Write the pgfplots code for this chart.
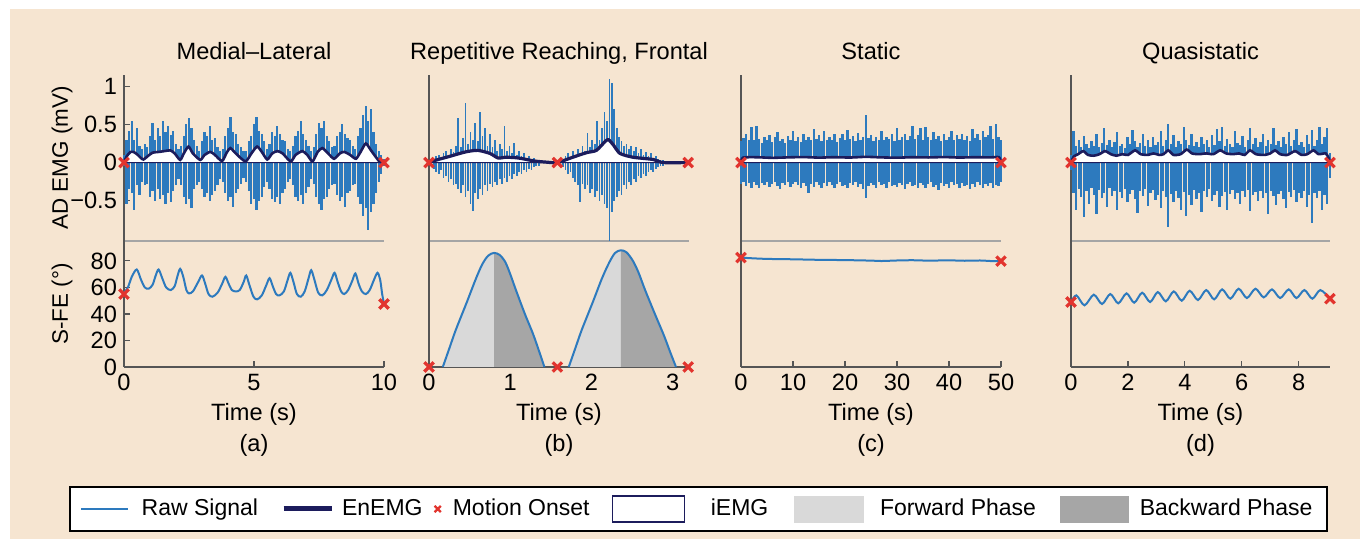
\documentclass[border=0pt]{standalone}
\usepackage{pgfplots}
\pgfplotsset{compat=1.18}
\usepackage{pgfplotstable}
\usepackage{fontspec}
\setmainfont{Liberation Sans}
\definecolor{bg}{RGB}{246,229,209}
\definecolor{rawblue}{RGB}{45,122,190}
\definecolor{navy}{RGB}{28,28,92}
\definecolor{fwd}{RGB}{217,217,217}
\definecolor{bwd}{RGB}{166,166,166}
\definecolor{redx}{RGB}{226,52,46}
\definecolor{axgray}{RGB}{85,85,85}
\definecolor{sepgray}{RGB}{165,165,165}
\newcommand\fs{\fontsize{11.8}{14}\selectfont}
\newcommand\fsy{\fontsize{11.2}{13}\selectfont}
\newcommand\gap[1]{\hspace*{#1}\mbox{}}

\pgfplotsset{
  pnlbase/.style={scale only axis, width=130pt, anchor=south west, clip=false,
    axis x line=bottom, axis y line=left,
    tick align=inside, major tick length=3pt,
    tick style={axgray, line width=0.6pt},
    tick label style={font=\fs, text=black},
    label style={font=\fs},
    title style={font=\fs, at={(axis description cs:0.5,1)}, anchor=base, yshift=1.5pt},
    /pgf/number format/assume math mode=true},
  pnlup/.style={pnlbase, height=83pt, ymin=-1.03, ymax=1.15, xtick=\empty, ytick=\empty,
    x axis line style={draw=sepgray, line width=0.6pt, -},
    y axis line style={draw=axgray, line width=0.7pt, -}},
  pnllow/.style={pnlbase, height=63pt, ymin=0, ymax=95, ytick=\empty,
    x axis line style={draw=axgray, line width=0.7pt, -},
    y axis line style={draw=axgray, line width=0.7pt, -},
    xlabel={Time (s)},
    xlabel style={font=\fs, at={(axis description cs:0.5,0)}, anchor=base, yshift=-27pt}},
  rawsig/.style={ycomb, no markers, draw=rawblue},
  iemg/.style={fill=white, draw=navy, line width=0.5pt, smooth, tension=0.4},
  enemg/.style={navy, line width=1.3pt, smooth, tension=0.4, no markers},
  onset/.style={only marks, mark=x, mark size=3.3pt, redx, line width=1.6pt},
  sfe/.style={rawblue, line width=1pt, smooth, no markers},
  ylab/.style={ylabel style={font=\fsy, at={(axis description cs:-0.2385,0.5)}, anchor=center}},
}

\pgfplotstableread{
t p n
0.0 0.10 -0.05
0.1 0.30 -0.55
0.2 0.42 -0.35
0.3 0.55 -0.40
0.4 0.30 -0.62
0.5 0.45 -0.30
0.6 0.22 -0.42
0.7 0.18 -0.25
0.8 0.25 -0.30
0.9 0.20 -0.28
1.0 0.35 -0.45
1.1 0.52 -0.38
1.2 0.30 -0.50
1.3 0.45 -0.35
1.4 0.35 -0.48
1.5 0.55 -0.42
1.6 0.40 -0.55
1.7 0.48 -0.40
1.8 0.36 -0.52
1.9 0.42 -0.38
2.0 0.25 -0.30
2.1 0.18 -0.22
2.2 0.22 -0.30
2.3 0.35 -0.45
2.4 0.50 -0.55
2.5 0.58 -0.48
2.6 0.45 -0.60
2.7 0.30 -0.35
2.8 0.22 -0.30
2.9 0.15 -0.25
3.0 0.28 -0.35
3.1 0.40 -0.45
3.2 0.35 -0.40
3.3 0.48 -0.50
3.4 0.30 -0.42
3.5 0.32 -0.38
3.6 0.20 -0.30
3.7 0.15 -0.22
3.8 0.18 -0.25
3.9 0.35 -0.40
4.0 0.45 -0.50
4.1 0.60 -0.45
4.2 0.40 -0.58
4.3 0.38 -0.40
4.4 0.25 -0.35
4.5 0.20 -0.28
4.6 0.15 -0.20
4.7 0.15 -0.25
4.8 0.28 -0.38
4.9 0.35 -0.55
5.0 0.50 -0.48
5.1 0.60 -0.62
5.2 0.42 -0.50
5.3 0.38 -0.45
5.4 0.28 -0.32
5.5 0.18 -0.25
5.6 0.25 -0.35
5.7 0.40 -0.48
5.8 0.35 -0.52
5.9 0.48 -0.45
6.0 0.38 -0.55
6.1 0.30 -0.40
6.2 0.28 -0.35
6.3 0.18 -0.25
6.4 0.15 -0.22
6.5 0.22 -0.30
6.6 0.35 -0.45
6.7 0.42 -0.50
6.8 0.55 -0.42
6.9 0.38 -0.55
7.0 0.30 -0.40
7.1 0.22 -0.32
7.2 0.15 -0.22
7.3 0.20 -0.28
7.4 0.38 -0.45
7.5 0.52 -0.55
7.6 0.45 -0.62
7.7 0.55 -0.48
7.8 0.35 -0.45
7.9 0.28 -0.35
8.0 0.20 -0.30
8.1 0.22 -0.28
8.2 0.35 -0.42
8.3 0.40 -0.50
8.4 0.50 -0.45
8.5 0.38 -0.58
8.6 0.32 -0.40
8.7 0.30 -0.38
8.8 0.22 -0.30
8.9 0.18 -0.28
9.0 0.35 -0.45
9.1 0.45 -0.55
9.2 0.62 -0.70
9.3 0.74 -0.60
9.4 0.55 -0.88
9.5 0.70 -0.65
9.6 0.40 -0.55
9.7 0.25 -0.40
9.8 0.15 -0.25
9.9 0.10 -0.15
10.0 0.05 -0.05
}\rawA

\pgfplotstableread{
t e
0 0
0.1 0.08
0.25 0.14
0.36 0.14
0.5 0.11
0.65 0.06
0.75 0.04
0.9 0.08
1.1 0.13
1.35 0.14
1.55 0.15
1.78 0.16
1.95 0.12
2.16 0.035
2.3 0.12
2.48 0.21
2.65 0.12
2.93 0.035
3.1 0.1
3.32 0.14
3.5 0.1
3.77 0.02
3.95 0.13
4.09 0.19
4.3 0.12
4.67 0.015
4.9 0.12
5.12 0.21
5.3 0.14
5.51 0.04
5.7 0.12
5.9 0.15
6.1 0.12
6.41 0.015
6.6 0.1
6.86 0.15
7.05 0.1
7.25 0.015
7.45 0.14
7.63 0.19
7.85 0.12
8.08 0.05
8.3 0.12
8.47 0.14
8.7 0.1
8.92 0.05
9.1 0.14
9.3 0.25
9.5 0.16
9.82 0.015
10 0
}\enA

\pgfplotstableread{
t p n
0.06 0.05 -0.08
0.09 0.08 -0.12
0.12 0.10 -0.15
0.15 0.06 -0.10
0.18 0.12 -0.20
0.21 0.15 -0.18
0.24 0.10 -0.25
0.27 0.18 -0.22
0.30 0.14 -0.30
0.33 0.22 -0.28
0.36 0.58 -0.35
0.39 0.20 -0.40
0.42 0.32 -0.30
0.45 0.78 -0.45
0.48 0.25 -0.38
0.51 0.40 -0.55
0.54 0.30 -0.63
0.57 0.52 -0.40
0.60 0.28 -0.48
0.63 0.67 -0.35
0.66 0.35 -0.42
0.69 0.45 -0.30
0.72 0.22 -0.38
0.75 0.38 -0.28
0.78 0.20 -0.32
0.81 0.30 -0.25
0.84 0.15 -0.30
0.87 0.25 -0.22
0.90 0.18 -0.28
0.93 0.48 -0.20
0.96 0.15 -0.25
0.99 0.22 -0.18
1.02 0.12 -0.22
1.05 0.26 -0.15
1.08 0.10 -0.18
1.11 0.15 -0.12
1.14 0.08 -0.15
1.17 0.12 -0.10
1.20 0.06 -0.12
1.23 0.08 -0.08
1.26 0.05 -0.10
1.29 0.06 -0.06
1.32 0.04 -0.05
1.35 0.03 -0.04
1.65 0.04 -0.06
1.68 0.08 -0.10
1.71 0.12 -0.15
1.74 0.06 -0.12
1.77 0.15 -0.20
1.80 0.10 -0.25
1.83 0.18 -0.30
1.86 0.12 -0.52
1.89 0.22 -0.28
1.92 0.15 -0.35
1.95 0.39 -0.30
1.98 0.20 -0.40
2.01 0.30 -0.35
2.04 0.25 -0.45
2.07 0.54 -0.38
2.10 0.30 -0.50
2.13 0.45 -0.42
2.16 0.67 -0.55
2.19 0.55 -0.60
2.22 1.10 -1.03
2.25 1.04 -0.65
2.28 0.70 -0.50
2.31 0.45 -0.45
2.34 0.33 -0.38
2.37 0.28 -0.42
2.40 0.22 -0.30
2.43 0.25 -0.35
2.46 0.18 -0.25
2.49 0.22 -0.30
2.52 0.15 -0.22
2.55 0.20 -0.25
2.58 0.12 -0.18
2.61 0.18 -0.20
2.64 0.10 -0.15
2.67 0.14 -0.18
2.70 0.08 -0.12
2.73 0.12 -0.10
2.76 0.06 -0.12
2.79 0.08 -0.08
2.82 0.05 -0.06
2.85 0.04 -0.05
2.88 0.03 -0.04
}\rawB

\pgfplotstableread{
t e
0 0
0.08 0.03
0.25 0.08
0.45 0.14
0.6 0.16
0.75 0.12
0.85 0.06
0.95 0.07
1.1 0.06
1.3 0.02
1.45 0.005
1.58 0
1.77 0.07
1.94 0.13
2.06 0.16
2.17 0.28
2.21 0.30
2.27 0.23
2.35 0.12
2.51 0.07
2.76 0.04
2.88 0.0
3.19 0
}\enB

\pgfplotstableread{
t p n
0.0 0.28 -0.28
0.5 0.32 -0.25
1.0 0.38 -0.31
1.5 0.30 -0.27
2.0 0.47 -0.33
2.5 0.29 -0.26
3.0 0.48 -0.29
3.5 0.31 -0.34
4.0 0.26 -0.27
4.5 0.34 -0.30
5.0 0.29 -0.26
5.5 0.36 -0.32
6.0 0.27 -0.28
6.5 0.33 -0.25
7.0 0.40 -0.31
7.5 0.28 -0.35
8.0 0.31 -0.27
8.5 0.26 -0.29
9.0 0.35 -0.26
9.5 0.30 -0.32
10.0 0.42 -0.28
10.5 0.28 -0.26
11.0 0.33 -0.30
11.5 0.27 -0.33
12.0 0.38 -0.27
12.5 0.30 -0.31
13.0 0.34 -0.40
13.5 0.29 -0.28
14.0 0.44 -0.32
14.5 0.31 -0.26
15.0 0.36 -0.29
15.5 0.28 -0.34
16.0 0.41 -0.27
16.5 0.30 -0.31
17.0 0.34 -0.25
17.5 0.29 -0.29
18.0 0.37 -0.33
18.5 0.27 -0.28
19.0 0.32 -0.26
19.5 0.38 -0.31
20.0 0.29 -0.29
20.5 0.43 -0.34
21.0 0.31 -0.27
21.5 0.35 -0.30
22.0 0.28 -0.25
22.5 0.39 -0.32
23.0 0.30 -0.28
23.5 0.34 -0.35
24.0 0.63 -0.46
24.5 0.32 -0.31
25.0 0.36 -0.27
25.5 0.28 -0.29
26.0 0.33 -0.33
26.5 0.30 -0.26
27.0 0.41 -0.30
27.5 0.29 -0.28
28.0 0.34 -0.34
28.5 0.31 -0.25
29.0 0.37 -0.31
29.5 0.28 -0.29
30.0 0.45 -0.32
30.5 0.30 -0.27
31.0 0.33 -0.30
31.5 0.38 -0.35
32.0 0.29 -0.28
32.5 0.35 -0.26
33.0 0.48 -0.31
33.5 0.31 -0.29
34.0 0.36 -0.33
34.5 0.46 -0.27
35.0 0.30 -0.30
35.5 0.47 -0.34
36.0 0.33 -0.28
36.5 0.29 -0.25
37.0 0.40 -0.32
37.5 0.31 -0.29
38.0 0.35 -0.36
38.5 0.28 -0.27
39.0 0.37 -0.31
39.5 0.30 -0.28
40.0 0.34 -0.33
40.5 0.42 -0.26
41.0 0.29 -0.30
41.5 0.36 -0.28
42.0 0.31 -0.34
42.5 0.38 -0.27
43.0 0.30 -0.31
43.5 0.35 -0.29
44.0 0.28 -0.35
44.5 0.44 -0.28
45.0 0.32 -0.32
45.5 0.37 -0.26
46.0 0.30 -0.30
46.5 0.41 -0.34
47.0 0.33 -0.28
47.5 0.36 -0.31
48.0 0.48 -0.27
48.5 0.31 -0.33
49.0 0.50 -0.29
49.5 0.34 -0.31
50.0 0.30 -0.26
}\rawC

\pgfplotstableread{
t e
0 0
0.4 0.065
3 0.07
6 0.062
9 0.068
12 0.072
15 0.065
18 0.07
21 0.066
24 0.075
27 0.068
30 0.064
33 0.07
36 0.067
39 0.072
42 0.066
45 0.07
48 0.068
49.6 0.07
50 0
}\enC

\pgfplotstableread{
t p n
0.00 0.10 -0.10
0.09 0.42 -0.40
0.18 0.22 -0.62
0.27 0.30 -0.35
0.36 0.20 -0.45
0.45 0.35 -0.72
0.54 0.24 -0.38
0.63 0.19 -0.55
0.72 0.28 -0.33
0.81 0.22 -0.42
0.90 0.38 -0.68
0.99 0.20 -0.36
1.08 0.26 -0.47
1.17 0.45 -0.40
1.26 0.23 -0.58
1.35 0.30 -0.34
1.44 0.21 -0.44
1.53 0.27 -0.37
1.62 0.40 -0.62
1.71 0.22 -0.39
1.80 0.25 -0.46
1.89 0.19 -0.35
1.98 0.33 -0.52
2.07 0.24 -0.41
2.16 0.43 -0.36
2.25 0.28 -0.48
2.34 0.21 -0.66
2.43 0.26 -0.38
2.52 0.37 -0.44
2.61 0.22 -0.35
2.70 0.29 -0.57
2.79 0.20 -0.40
2.88 0.34 -0.36
2.97 0.23 -0.49
3.06 0.27 -0.42
3.15 0.41 -0.60
3.24 0.22 -0.38
3.33 0.30 -0.45
3.42 0.50 -0.84
3.51 0.25 -0.41
3.60 0.36 -0.52
3.69 0.21 -0.37
3.78 0.28 -0.46
3.87 0.24 -0.62
3.96 0.47 -0.39
4.05 0.30 -0.70
4.14 0.23 -0.43
4.23 0.38 -0.56
4.32 0.22 -0.36
4.41 0.27 -0.48
4.50 0.20 -0.40
4.59 0.33 -0.65
4.68 0.24 -0.38
4.77 0.29 -0.45
4.86 0.21 -0.35
4.95 0.36 -0.50
5.04 0.23 -0.42
5.13 0.44 -0.37
5.22 0.28 -0.58
5.31 0.47 -0.44
5.40 0.22 -0.39
5.49 0.31 -0.62
5.58 0.25 -0.41
5.67 0.20 -0.36
5.76 0.42 -0.48
5.85 0.26 -0.40
5.94 0.23 -0.55
6.03 0.35 -0.38
6.12 0.21 -0.45
6.21 0.29 -0.36
6.30 0.45 -0.64
6.39 0.24 -0.42
6.48 0.32 -0.39
6.57 0.20 -0.51
6.66 0.27 -0.37
6.75 0.38 -0.46
6.84 0.22 -0.40
6.93 0.30 -0.68
7.02 0.25 -0.38
7.11 0.46 -0.44
7.20 0.23 -0.56
7.29 0.28 -0.41
7.38 0.21 -0.37
7.47 0.34 -0.48
7.56 0.24 -0.60
7.65 0.40 -0.39
7.74 0.22 -0.45
7.83 0.29 -0.36
7.92 0.44 -0.52
8.01 0.23 -0.40
8.10 0.27 -0.47
8.19 0.21 -0.38
8.28 0.36 -0.58
8.37 0.25 -0.42
8.46 0.43 -0.80
8.55 0.22 -0.40
8.64 0.30 -0.46
8.73 0.47 -0.37
8.82 0.24 -0.62
8.91 0.33 -0.43
9.00 0.45 -0.55
9.09 0.12 -0.20
}\rawD

\pgfplotstableread{
t e
0 0
0.1 0.08
0.25 0.11
0.43 0.15
0.6 0.10
0.8 0.09
1.0 0.11
1.2 0.15
1.4 0.11
1.6 0.09
1.8 0.11
2.0 0.10
2.25 0.16
2.45 0.11
2.7 0.10
2.9 0.12
3.1 0.10
3.25 0.11
3.42 0.16
3.6 0.10
3.85 0.11
4.07 0.17
4.25 0.12
4.5 0.11
4.75 0.12
5.0 0.11
5.24 0.16
5.45 0.12
5.7 0.11
5.9 0.12
6.1 0.10
6.29 0.16
6.5 0.11
6.8 0.10
7.0 0.12
7.17 0.16
7.35 0.11
7.6 0.10
7.87 0.15
8.1 0.10
8.3 0.11
8.52 0.16
8.7 0.11
8.95 0.12
9.05 0.06
9.1 0
}\enD

\pgfplotstableread{
t y
0.17 0
0.25 14
0.33 28
0.46 48
0.58 67
0.66 78
0.73 84
0.80 86
}\fwdA
\pgfplotstableread{
t y
0.80 86
0.87 84.5
0.94 79
1.00 70
1.07 58
1.18 40
1.28 25
1.36 11
1.42 0
}\bwdA
\pgfplotstableread{
t y
0.17 0
0.25 14
0.33 28
0.46 48
0.58 67
0.66 78
0.73 84
0.80 86
0.87 84.5
0.94 79
1.00 70
1.07 58
1.18 40
1.28 25
1.36 11
1.42 0
}\bellA
\pgfplotstableread{
t y
1.72 0
1.80 14
1.88 28
2.01 48
2.13 67
2.22 79
2.29 86
2.36 88
}\fwdB
\pgfplotstableread{
t y
2.36 88
2.43 86.5
2.51 80
2.58 71
2.66 58
2.78 40
2.89 24
2.97 11
3.04 0
}\bwdB
\pgfplotstableread{
t y
1.72 0
1.80 14
1.88 28
2.01 48
2.13 67
2.22 79
2.29 86
2.36 88
2.43 86.5
2.51 80
2.58 71
2.66 58
2.78 40
2.89 24
2.97 11
3.04 0
}\bellB

\begin{document}
\begin{tikzpicture}
\fill[white] (0,0) rectangle (680pt,269.5pt);
\fill[bg] (5pt,0) rectangle (680pt,265pt);
\useasboundingbox (0,0) rectangle (680pt,269.5pt);

% ---------------- (a) ----------------
\begin{axis}[pnlup, at={(62pt,149pt)}, xmin=0, xmax=10,
  ytick={-0.5,0,0.5,1}, yticklabels={−0.5,0,0.5,1},
  ylabel={AD EMG (mV)}, ylab,
  title={Medial–Lateral}]
\addplot[rawsig, line width=1.1pt] table[x=t,y=p]{\rawA};
\addplot[rawsig, line width=1.1pt] table[x=t,y=n]{\rawA};
\addplot[iemg] table[x=t,y=e]{\enA} \closedcycle;
\addplot[enemg] table[x=t,y=e]{\enA};
\addplot[onset] coordinates {(0,0) (10,0)};
\end{axis}
\begin{axis}[pnllow, at={(62pt,86pt)}, xmin=0, xmax=10, xtick={0,5,10},
  ytick={0,20,40,60,80},
  ylabel={S-FE (°)}, ylab]
\addplot[sfe] table {
0 56
0.15 60
0.3 68
0.49 73.5
0.65 66
0.8 60
0.95 59
1.1 62
1.22 69
1.33 73.5
1.47 67
1.62 60
1.8 58
1.95 61
2.05 68
2.16 74
2.28 68
2.4 58
2.5 55.5
2.65 57
2.85 64
3.0 69
3.12 63
3.25 55
3.4 53
3.6 56
3.78 63
3.9 68
4.02 63
4.15 58
4.3 57
4.45 58
4.6 64
4.7 69
4.82 62
4.98 53
5.12 51
5.3 54
5.48 62
5.6 67
5.72 61
5.85 55
5.98 54
6.15 57
6.3 66
6.4 71
6.52 64
6.65 55
6.8 53
6.95 57
7.1 67
7.2 73
7.32 66
7.47 56
7.63 54
7.8 58
7.98 66
8.1 71
8.22 64
8.35 57
8.47 55
8.62 58
8.78 65
8.9 70.5
9.02 63
9.15 57
9.3 55
9.45 58
9.62 66
9.75 71
9.85 66
9.93 55
10 47.5
};
\addplot[onset] coordinates {(0,55) (10,47.5)};
\node[font=\fs, anchor=base, yshift=-42.5pt] at (axis description cs:0.5,0) {(a)};
\end{axis}

% ---------------- (b) ----------------
\begin{axis}[pnlup, at={(214.5pt,149pt)}, xmin=0, xmax=3.2,
  title={Repetitive Reaching, Frontal}]
\addplot[rawsig, line width=0.85pt] table[x=t,y=p]{\rawB};
\addplot[rawsig, line width=0.85pt] table[x=t,y=n]{\rawB};
\addplot[iemg] table[x=t,y=e]{\enB} \closedcycle;
\addplot[enemg, line width=1.6pt] table[x=t,y=e]{\enB};
\addplot[onset] coordinates {(0,0) (1.58,0) (3.19,0)};
\end{axis}
\begin{axis}[pnllow, at={(214.5pt,86pt)}, xmin=0, xmax=3.2, xtick={0,1,2,3}]
\addplot[fill=fwd, draw=none, smooth] table[x=t,y=y]{\fwdA} \closedcycle;
\addplot[fill=bwd, draw=none, smooth] table[x=t,y=y]{\bwdA} \closedcycle;
\addplot[fill=fwd, draw=none, smooth] table[x=t,y=y]{\fwdB} \closedcycle;
\addplot[fill=bwd, draw=none, smooth] table[x=t,y=y]{\bwdB} \closedcycle;
\addplot[sfe] table[x=t,y=y]{\bellA};
\addplot[sfe] table[x=t,y=y]{\bellB};
\addplot[onset] coordinates {(0,0) (1.58,0) (3.19,0)};
\node[font=\fs, anchor=base, yshift=-42.5pt] at (axis description cs:0.5,0) {(b)};
\end{axis}

% ---------------- (c) ----------------
\begin{axis}[pnlup, at={(370.5pt,149pt)}, xmin=0, xmax=50, title={Static}]
\addplot[rawsig, line width=1.2pt] table[x=t,y=p]{\rawC};
\addplot[rawsig, line width=1.2pt] table[x=t,y=n]{\rawC};
\addplot[iemg] table[x=t,y=e]{\enC} \closedcycle;
\addplot[enemg] table[x=t,y=e]{\enC};
\addplot[onset] coordinates {(0,0) (50,0)};
\end{axis}
\begin{axis}[pnllow, at={(370.5pt,86pt)}, xmin=0, xmax=50, xtick={0,10,...,50}]
\addplot[sfe] table {
0 82.5
2 82
5 81.5
10 81.2
15 80.8
20 80.6
25 80.2
27 79.9
30 80.3
33 80.5
36 80.2
40 80.4
43 80.1
46 80.3
48 79.9
50 79.8
};
\addplot[onset] coordinates {(0,82.5) (50,79.8)};
\node[font=\fs, anchor=base, yshift=-42.5pt] at (axis description cs:0.5,0) {(c)};
\end{axis}

% ---------------- (d) ----------------
\begin{axis}[pnlup, at={(535.5pt,149pt)}, width=129.5pt, xmin=0, xmax=9.1, title={Quasistatic}]
\addplot[rawsig, line width=1.15pt] table[x=t,y=p]{\rawD};
\addplot[rawsig, line width=1.15pt] table[x=t,y=n]{\rawD};
\addplot[iemg] table[x=t,y=e]{\enD} \closedcycle;
\addplot[enemg] table[x=t,y=e]{\enD};
\addplot[onset] coordinates {(0,0) (9.1,0)};
\end{axis}
\begin{axis}[pnllow, at={(535.5pt,86pt)}, width=129.5pt, xmin=0, xmax=9.1, xtick={0,2,4,6,8}]
\addplot[sfe] table {
0 49
0.19 54
0.475 46.5
0.80 54.5
1.09 47.5
1.38 55
1.66 48
1.95 55.5
2.22 48.5
2.50 56
2.78 49
3.05 56.5
3.33 49.5
3.61 57
3.89 50
4.17 57.5
4.46 50.5
4.75 58
5.03 51
5.31 58.5
5.60 51.5
5.89 59
6.18 52
6.48 59
6.77 52.5
7.06 58.5
7.35 52
7.65 58.5
7.92 52
8.20 58
8.48 51.5
8.76 58
9.10 51.5
};
\addplot[onset] coordinates {(0,49) (9.1,51.5)};
\node[font=\fs, anchor=base, yshift=-42.5pt] at (axis description cs:0.5,0) {(d)};
\end{axis}

% ---------------- legend ----------------
\begin{axis}[at={(35pt,4pt)}, anchor=south west, scale only axis,
  width=628.5pt, height=22pt, xmin=0, xmax=1, ymin=0, ymax=1,
  xtick=\empty, ytick=\empty,
  axis line style={black, line width=0.6pt},
  axis background/.style={fill=white},
  legend columns=6,
  legend style={draw=none, fill=none, at={(0.5,0.5)}, anchor=center,
    font=\fontsize{11.5}{13}\selectfont}]
\addlegendimage{legend image code/.code={\draw[rawblue, line width=0.6pt] (0pt,0pt) -- (23.5pt,0pt);}}
\addlegendentry{\gap{4.5pt}Raw Signal\gap{9.5pt}}
\addlegendimage{legend image code/.code={\draw[navy, line width=2.5pt] (0pt,0pt) -- (24pt,0pt);}}
\addlegendentry{\gap{2pt}EnEMG\gap{4pt}}
\addlegendimage{only marks, mark=x, mark size=2.2pt, redx, line width=1.2pt}
\addlegendentry{\gap{4pt}Motion Onset\gap{9pt}}
\addlegendimage{legend image code/.code={\draw[navy, fill=white, line width=0.6pt] (0pt,-6.5pt) rectangle (36pt,6.5pt);}}
\addlegendentry{\gap{11pt}iEMG\gap{11pt}}
\addlegendimage{legend image code/.code={\fill[fwd] (0pt,-6.5pt) rectangle (34.5pt,6.5pt);}}
\addlegendentry{\gap{6pt}Forward Phase\gap{10pt}}
\addlegendimage{legend image code/.code={\fill[bwd] (0pt,-6.5pt) rectangle (34pt,6.5pt);}}
\addlegendentry{\gap{3.5pt}Backward Phase}
\end{axis}
\end{tikzpicture}
\end{document}
